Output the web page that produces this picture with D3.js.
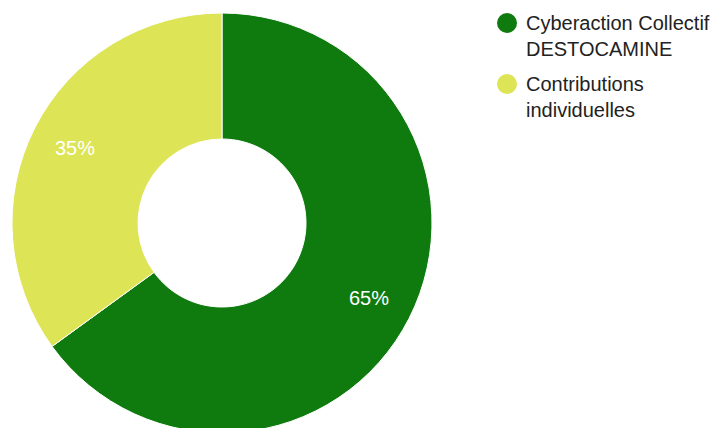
<!DOCTYPE html>
<html>
<head>
<meta charset="utf-8">
<script src="https://cdn.jsdelivr.net/npm/d3@7"></script>
<style>
  html, body { margin: 0; padding: 0; background: #fff; }
  svg { display: block; }
</style>
</head>
<body>
<div id="chart"></div>
<script>
const categories = ["Cyberaction Collectif DESTOCAMINE", "Contributions individuelles"];
const legendLines = [["Cyberaction Collectif", "DESTOCAMINE"], ["Contributions", "individuelles"]];
const values = [65, 35];
const colors = ["#0f7b0f", "#dde455"];

const W = 724, H = 428;
const cx = 222, cy = 223, rOuter = 210, rInner = 84, rLabel = 165;

const svg = d3.select("#chart").append("svg")
  .attr("width", W).attr("height", H)
  .style("font-family", "Arial, 'Liberation Sans', sans-serif");

const data = categories.map((c, i) => ({ name: c, value: values[i], color: colors[i] }));
const total = d3.sum(values);

const pie = d3.pie().value(d => d.value).sort(null);
const arc = d3.arc().innerRadius(rInner).outerRadius(rOuter);
const labelArc = d3.arc().innerRadius(rLabel).outerRadius(rLabel);

const g = svg.append("g").attr("transform", `translate(${cx},${cy})`);
const arcs = pie(data);

g.selectAll("path").data(arcs).join("path")
  .attr("d", arc)
  .attr("fill", d => d.data.color)
  .attr("stroke", "#fff")
  .attr("stroke-width", 1);

g.selectAll("text").data(arcs).join("text")
  .attr("transform", d => `translate(${labelArc.centroid(d)})`)
  .attr("text-anchor", "middle")
  .attr("dy", "0.36em")
  .attr("fill", "#fff")
  .style("font-size", "20px")
  .text(d => Math.round(d.data.value / total * 100) + "%");

const legend = svg.append("g");
const rowY = [23, 84];
data.forEach((d, i) => {
  const row = legend.append("g").attr("transform", `translate(0,${rowY[i]})`);
  row.append("circle").attr("cx", 507).attr("cy", 0).attr("r", 10).attr("fill", d.color);
  legendLines[i].forEach((line, j) => {
    row.append("text")
      .attr("x", 526).attr("y", 7 + j * 26)
      .attr("fill", "#222")
      .style("font-size", "20px")
      .text(line);
  });
});
</script>
</body>
</html>
